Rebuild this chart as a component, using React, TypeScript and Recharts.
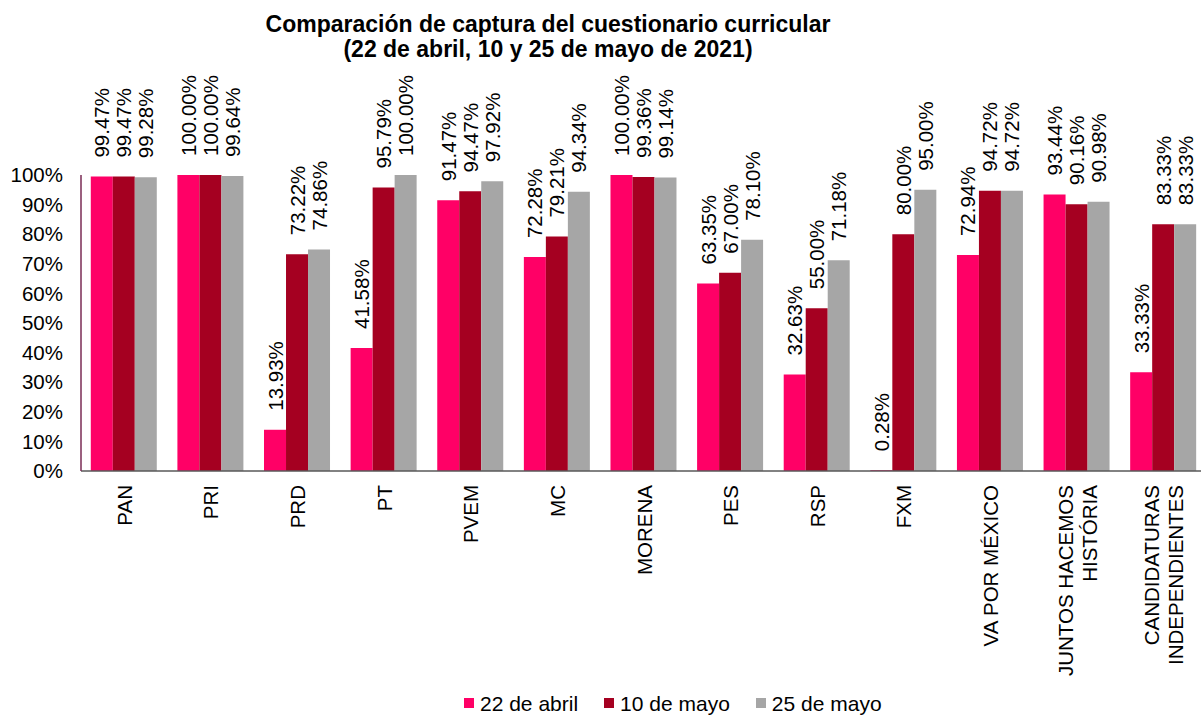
import { BarChart, Bar, XAxis, YAxis, Legend, LabelList } from "recharts";

const CATEGORIES = [
  "PAN",
  "PRI",
  "PRD",
  "PT",
  "PVEM",
  "MC",
  "MORENA",
  "PES",
  "RSP",
  "FXM",
  "VA POR MÉXICO",
  "JUNTOS HACEMOS|HISTÓRIA",
  "CANDIDATURAS|INDEPENDIENTES",
];

const ABRIL_22 = [99.47, 100, 13.93, 41.58, 91.47, 72.28, 100, 63.35, 32.63, 0.28, 72.94, 93.44, 33.33];
const MAYO_10 = [99.47, 100, 73.22, 95.79, 94.47, 79.21, 99.36, 67.0, 55.0, 80.0, 94.72, 90.16, 83.33];
const MAYO_25 = [99.28, 99.64, 74.86, 100, 97.92, 94.34, 99.14, 78.1, 71.18, 95.0, 94.72, 90.98, 83.33];

const Y_TICKS = [0, 10, 20, 30, 40, 50, 60, 70, 80, 90, 100];
const SEP_TICKS = CATEGORIES.map((_, i) => i).concat([CATEGORIES.length]);

const SERIES = [
  { key: "abril22", name: "22 de abril", color: "#FF0066" },
  { key: "mayo10", name: "10 de mayo", color: "#A50021" },
  { key: "mayo25", name: "25 de mayo", color: "#A6A6A6" },
] as const;

const data = CATEGORIES.map((c, i) => ({
  name: c,
  abril22: ABRIL_22[i],
  mayo10: MAYO_10[i],
  mayo25: MAYO_25[i],
}));

const FONT = '"Liberation Sans", Arial, sans-serif';

// rotated value label sitting above each bar
const renderBarLabel = (props: any) => {
  const { x, y, width, value } = props;
  const cx = Number(x) + Number(width) / 2;
  const cy = Number(y) - 19;
  return (
    <text
      x={cx}
      y={cy}
      transform={`rotate(-90 ${cx} ${cy})`}
      textAnchor="start"
      dominantBaseline="central"
      fontSize={20.5}
      fontFamily={FONT}
      fill="#000"
    >
      {Number(value).toFixed(2)}%
    </text>
  );
};

// category names read bottom-to-top, two-line names split on "|"
const CategoryTick = (props: any) => {
  const { x, y, payload } = props;
  const lines = String(payload.value).split("|");
  const ty = y + 6;
  return (
    <g>
      {lines.map((line, i) => {
        const lx = x + (i - (lines.length - 1) / 2) * 24;
        return (
          <text
            key={i}
            x={lx}
            y={ty}
            transform={`rotate(-90 ${lx} ${ty})`}
            textAnchor="end"
            dominantBaseline="central"
            fontSize={20.5}
            fontFamily={FONT}
            fill="#000"
          >
            {line}
          </text>
        );
      })}
    </g>
  );
};

const LegendContent = () => (
  <div style={{ display: "flex", fontFamily: FONT, fontSize: 21, lineHeight: "20px", color: "#000" }}>
    {SERIES.map((s) => (
      <div key={s.key} style={{ display: "flex", alignItems: "flex-start", marginRight: 26 }}>
        <span style={{ width: 10, height: 10, background: s.color, marginTop: 4, marginRight: 6 }} />
        <span>{s.name}</span>
      </div>
    ))}
  </div>
);

export default function App() {
  return (
    <div
      style={{
        position: "fixed",
        left: 0,
        top: 0,
        width: 1201,
        height: 715,
        overflow: "hidden",
        background: "#fff",
      }}
    >
      <div
        style={{
          position: "absolute",
          left: 0,
          top: 12,
          width: 1096,
          textAlign: "center",
          fontFamily: FONT,
          fontWeight: "bold",
          fontSize: 23,
          lineHeight: "25px",
          color: "#000",
          zIndex: 2,
        }}
      >
        Comparación de captura del cuestionario curricular
        <br />
        (22 de abril, 10 y 25 de mayo de 2021)
      </div>
      <BarChart
        width={1210}
        height={715}
        data={data}
        margin={{ top: 175, right: 3, bottom: 0, left: 0 }}
        barCategoryGap="11.3%"
        barGap={0}
      >
        <XAxis
          xAxisId="sep"
          type="number"
          domain={[0, CATEGORIES.length]}
          ticks={SEP_TICKS}
          mirror
          height={0}
          tick={false}
          axisLine={false}
          tickSize={6}
          tickLine={{ stroke: "#595959", strokeWidth: 1.2 }}
        />
        <YAxis
          yAxisId="marks"
          domain={[0, 100]}
          ticks={Y_TICKS}
          mirror
          width={0}
          tick={false}
          axisLine={false}
          tickSize={5}
          tickLine={{ stroke: "#7a2b55", strokeWidth: 1.2 }}
        />
        <XAxis
          xAxisId="cat"
          dataKey="name"
          interval={0}
          height={244}
          tickLine={false}
          axisLine={{ stroke: "#595959", strokeWidth: 1.5 }}
          tick={<CategoryTick />}
        />
        <YAxis
          yAxisId="val"
          domain={[0, 100]}
          ticks={Y_TICKS}
          width={81}
          tickLine={false}
          tickSize={0}
          tickMargin={18}
          axisLine={{ stroke: "#7a2b55", strokeWidth: 1.5 }}
          tickFormatter={(v) => `${v}%`}
          tick={{ fontSize: 20.5, fill: "#000", fontFamily: FONT }}
        />
        <Legend
          verticalAlign="middle"
          align="center"
          layout="horizontal"
          content={<LegendContent />}
          wrapperStyle={{ left: 464, top: 694, width: 520 }}
        />
        {SERIES.map((s) => (
          <Bar
            key={s.key}
            xAxisId="cat"
            yAxisId="val"
            dataKey={s.key}
            name={s.name}
            fill={s.color}
            isAnimationActive={false}
          >
            <LabelList dataKey={s.key} content={renderBarLabel} />
          </Bar>
        ))}
      </BarChart>
    </div>
  );
}
